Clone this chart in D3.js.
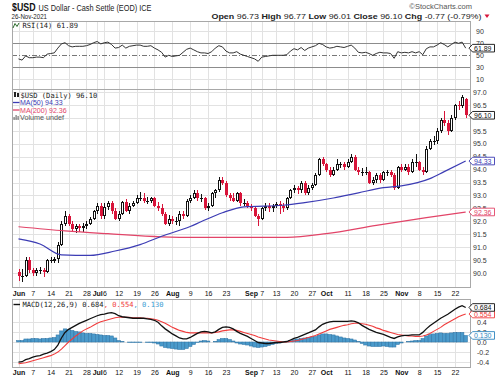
<!DOCTYPE html>
<html>
<head>
<meta charset="utf-8">
<script src="https://d3js.org/d3.v7.min.js"></script>
<style>
body { margin: 0; background: #fff; }
svg { display: block; }
</style>
</head>
<body>
<div id="chart"></div>
<script>
// Trading days (2021)
var dates = ["06-01","06-02","06-03","06-04","06-07","06-08","06-09","06-10","06-11","06-14","06-15","06-16","06-17","06-18","06-21","06-22","06-23","06-24","06-25","06-28","06-29","06-30",
  "07-01","07-02","07-06","07-07","07-08","07-09","07-12","07-13","07-14","07-15","07-16","07-19","07-20","07-21","07-22","07-23","07-26","07-27","07-28","07-29","07-30",
  "08-02","08-03","08-04","08-05","08-06","08-09","08-10","08-11","08-12","08-13","08-16","08-17","08-18","08-19","08-20","08-23","08-24","08-25","08-26","08-27","08-30","08-31",
  "09-01","09-02","09-03","09-07","09-08","09-09","09-10","09-13","09-14","09-15","09-16","09-17","09-20","09-21","09-22","09-23","09-24","09-27","09-28","09-29","09-30",
  "10-01","10-04","10-05","10-06","10-07","10-08","10-11","10-12","10-13","10-14","10-15","10-18","10-19","10-20","10-21","10-22","10-25","10-26","10-27","10-28","10-29",
  "11-01","11-02","11-03","11-04","11-05","11-08","11-09","11-10","11-11","11-12","11-15","11-16","11-17","11-18","11-19","11-22","11-23","11-24","11-26"];

var open = [90.05,89.90,89.90,90.50,90.10,90.00,90.10,90.10,90.05,90.50,
  90.50,90.55,91.10,91.90,92.20,91.90,91.70,91.80,91.75,91.80,
  91.90,92.10,92.40,92.60,92.20,92.55,92.70,92.40,92.10,92.30,
  92.75,92.40,92.60,92.70,92.90,92.90,92.80,92.80,92.90,92.60,
  92.50,92.30,91.90,92.10,92.00,92.00,92.30,92.20,92.80,92.90,
  93.10,92.90,92.90,92.50,92.60,93.10,93.20,93.60,93.50,93.00,
  92.90,92.80,93.10,92.70,92.70,92.60,92.50,92.20,92.10,92.50,
  92.60,92.50,92.60,92.65,92.60,92.50,92.90,93.20,93.30,93.20,
  93.50,93.10,93.30,93.40,93.80,94.40,94.20,94.00,93.80,94.00,
  94.20,94.20,94.10,94.30,94.50,94.00,93.90,93.90,93.90,93.50,
  93.60,93.80,93.60,93.90,93.90,93.80,93.30,94.10,94.00,94.10,
  93.90,94.30,94.30,94.00,93.90,94.80,95.10,95.10,95.50,95.90,
  95.80,95.50,96.00,96.50,96.45,96.73];
var high = [90.15,90.15,90.60,90.60,90.20,90.20,90.25,90.20,90.55,90.60,
  90.60,91.20,92.00,92.40,92.30,92.00,91.90,91.90,91.95,92.00,
  92.15,92.45,92.70,92.70,92.70,92.80,92.80,92.50,92.40,92.80,
  92.85,92.70,92.80,93.00,93.15,93.10,92.95,92.95,92.95,92.75,
  92.65,92.35,92.25,92.20,92.15,92.40,92.40,92.85,93.00,93.20,
  93.20,93.05,92.95,92.70,93.15,93.25,93.70,93.70,93.55,93.10,
  93.10,93.15,93.15,92.85,92.80,92.65,92.55,92.30,92.55,92.70,
  92.70,92.65,92.75,92.80,92.70,92.95,93.25,93.40,93.35,93.55,
  93.55,93.40,93.50,93.85,94.45,94.50,94.25,94.10,94.10,94.40,
  94.30,94.30,94.40,94.60,94.55,94.10,94.05,94.10,93.95,93.70,
  93.85,93.85,93.95,94.00,94.00,93.85,94.15,94.20,94.20,94.20,
  94.40,94.60,94.35,94.10,94.90,95.20,95.30,95.60,96.00,96.25,
  95.90,96.10,96.55,96.65,96.90,96.77];
var low = [89.70,89.65,89.85,90.00,89.90,89.90,89.95,89.85,90.00,90.40,
  90.40,90.40,91.05,91.80,91.80,91.60,91.55,91.60,91.60,91.70,
  91.85,92.05,92.30,92.10,92.10,92.45,92.30,92.05,92.00,92.25,
  92.35,92.30,92.55,92.65,92.80,92.70,92.65,92.70,92.55,92.40,
  92.20,91.85,91.80,91.90,91.85,91.80,92.10,92.15,92.70,92.85,
  92.80,92.75,92.45,92.40,92.55,92.90,93.15,93.40,92.95,92.80,
  92.75,92.75,92.60,92.60,92.50,92.40,92.15,91.80,92.05,92.40,
  92.35,92.35,92.50,92.30,92.35,92.45,92.85,93.10,93.05,93.10,
  93.00,93.00,93.20,93.35,93.75,94.15,93.90,93.70,93.75,93.95,
  94.05,94.00,94.05,94.25,93.95,93.80,93.75,93.80,93.45,93.40,
  93.50,93.50,93.55,93.75,93.70,93.20,93.25,93.90,93.95,93.80,
  93.85,94.10,93.95,93.80,93.85,94.75,94.95,95.00,95.40,95.70,
  95.35,95.45,95.90,96.30,96.40,96.01];
var close = [89.90,89.90,90.50,90.10,90.00,90.10,90.10,90.05,90.50,90.50,
  90.55,91.10,91.90,92.20,91.90,91.70,91.80,91.75,91.80,91.90,
  92.10,92.40,92.60,92.20,92.55,92.70,92.40,92.10,92.30,92.75,
  92.40,92.60,92.70,92.90,92.90,92.80,92.80,92.90,92.60,92.50,
  92.30,91.90,92.10,92.00,92.00,92.30,92.20,92.80,92.90,93.10,
  92.90,92.90,92.50,92.60,93.10,93.20,93.60,93.50,93.00,92.90,
  92.80,93.10,92.70,92.70,92.60,92.50,92.20,92.10,92.50,92.60,
  92.50,92.60,92.65,92.60,92.50,92.90,93.20,93.30,93.20,93.50,
  93.10,93.30,93.40,93.80,94.40,94.20,94.00,93.80,94.00,94.20,
  94.20,94.10,94.30,94.50,94.00,93.90,93.90,93.90,93.50,93.60,
  93.80,93.60,93.90,93.90,93.80,93.30,94.10,94.00,94.10,93.90,
  94.30,94.30,94.00,93.90,94.80,95.10,95.10,95.50,95.90,95.80,
  95.50,96.00,96.50,96.45,96.80,96.10];

// Moving averages (read at a few points)
var ma50Dates = ["06-01","06-09","06-17","06-29","07-09","07-20","07-28","08-09","08-12","08-20","08-30","09-15","09-23","10-05","10-14","10-25","11-01","11-11","11-17","11-26"];
var ma50 = [91.32,91.12,90.70,90.68,90.85,91.10,91.42,91.80,91.98,92.33,92.56,92.62,92.72,92.90,93.10,93.30,93.37,93.65,93.92,94.33];
var ma200Dates = ["06-01","06-18","07-07","07-28","08-11","09-16","10-01","10-21","11-10","11-26"];
var ma200 = [91.79,91.63,91.52,91.40,91.38,91.38,91.52,91.84,92.14,92.36];

var rsi = [44,42,49,46,46,47,47,46,52,53,
  54,62,69,71,66,64,65,65,65,66,
  68,71,73,69,71,72,68,62,63,67,
  62,65,66,67,67,65,65,66,62,59,
  55,47,50,48,49,50,55,60,62,59,
  56,54,54,53,56,62,66,64,57,54,
  54,56,52,50,48,46,44,40,47,48,
  49,50,50,50,50,51,57,61,59,63,
  58,62,64,66,70,68,64,62,63,65,
  64,63,65,67,62,55,54,55,53,50,
  53,55,54,54,53,45,56,54,55,54,
  56,54,56,51,61,64,64,67,71,68,
  64,68,72,70,72,61.89];

var macd = [-0.40,-0.39,-0.35,-0.33,-0.30,-0.28,-0.27,-0.24,-0.22,-0.19,
  -0.15,-0.06,0.08,0.19,0.25,0.29,0.33,0.37,0.40,0.43,
  0.46,0.49,0.52,0.54,0.55,0.57,0.58,0.56,0.52,0.50,
  0.49,0.48,0.47,0.47,0.47,0.47,0.46,0.45,0.43,0.39,
  0.32,0.26,0.21,0.16,0.12,0.08,0.06,0.06,0.09,0.13,
  0.17,0.20,0.21,0.20,0.18,0.20,0.25,0.29,0.30,0.29,
  0.26,0.21,0.17,0.14,0.11,0.07,0.03,-0.01,-0.02,-0.03,
  -0.03,-0.02,-0.01,-0.01,0.00,0.01,0.04,0.07,0.09,0.12,
  0.15,0.18,0.21,0.24,0.30,0.35,0.38,0.40,0.41,0.41,
  0.41,0.41,0.41,0.42,0.41,0.38,0.33,0.29,0.25,0.22,
  0.19,0.17,0.15,0.12,0.09,0.07,0.10,0.12,0.13,0.13,
  0.14,0.14,0.14,0.19,0.26,0.32,0.37,0.42,0.47,0.51,
  0.55,0.60,0.65,0.69,0.72,0.684];
var signal = [-0.43,-0.42,-0.41,-0.39,-0.37,-0.35,-0.33,-0.31,-0.29,-0.27,
  -0.24,-0.20,-0.14,-0.07,0.00,0.06,0.12,0.17,0.22,0.26,
  0.29,0.33,0.37,0.40,0.42,0.44,0.46,0.48,0.49,0.49,
  0.49,0.49,0.48,0.48,0.48,0.47,0.47,0.46,0.45,0.43,
  0.40,0.37,0.33,0.29,0.26,0.23,0.21,0.19,0.18,0.18,
  0.18,0.18,0.18,0.18,0.18,0.19,0.20,0.22,0.23,0.24,
  0.24,0.23,0.21,0.19,0.17,0.15,0.13,0.10,0.08,0.06,
  0.04,0.03,0.02,0.01,0.00,0.00,0.01,0.02,0.03,0.05,
  0.07,0.09,0.11,0.13,0.16,0.19,0.22,0.25,0.27,0.29,
  0.31,0.33,0.34,0.36,0.37,0.37,0.36,0.35,0.33,0.31,
  0.28,0.26,0.23,0.21,0.19,0.17,0.15,0.14,0.13,0.12,
  0.12,0.11,0.11,0.12,0.14,0.17,0.21,0.25,0.29,0.34,
  0.38,0.42,0.46,0.50,0.53,0.554];
var hist = [0.03,0.03,0.06,0.06,0.07,0.07,0.06,0.07,0.07,0.08,
  0.09,0.14,0.22,0.26,0.25,0.23,0.21,0.20,0.18,0.17,
  0.17,0.16,0.15,0.14,0.13,0.13,0.12,0.08,0.03,0.01,
  0.00,-0.01,-0.01,-0.01,-0.01,0.00,-0.01,-0.01,-0.02,-0.04,
  -0.08,-0.11,-0.12,-0.13,-0.14,-0.15,-0.15,-0.13,-0.09,-0.05,
  -0.01,0.02,0.03,0.02,0.00,0.01,0.05,0.07,0.07,0.05,
  0.02,-0.02,-0.04,-0.05,-0.06,-0.08,-0.10,-0.11,-0.10,-0.09,
  -0.07,-0.05,-0.03,-0.02,0.00,0.01,0.03,0.05,0.06,0.07,
  0.08,0.09,0.10,0.11,0.14,0.16,0.16,0.15,0.14,0.12,
  0.10,0.08,0.07,0.06,0.04,0.01,-0.03,-0.06,-0.08,-0.09,
  -0.09,-0.09,-0.08,-0.09,-0.10,-0.10,-0.05,-0.02,0.00,0.01,
  0.02,0.03,0.03,0.07,0.12,0.15,0.16,0.17,0.18,0.17,
  0.17,0.18,0.19,0.19,0.19,0.13];

// Axis ticks (96.0 sits under the close tag in the reference)
var tickDates = ["06-01","06-07","06-14","06-21","06-28","07-01","07-06","07-12","07-19","07-26","08-02","08-09","08-16","08-23","09-01","09-07","09-13","09-20","09-27","10-01","10-11","10-18","10-25","11-01","11-08","11-15","11-22"];
var tickLabels = ["Jun","7","14","21","28","Jul","6","12","19","26","Aug","9","16","23","Sep","7","13","20","27","Oct","11","18","25","Nov","8","15","22"];
var priceGrid = [90.0,90.5,91.0,91.5,92.0,92.5,93.0,93.5,94.0,94.5,95.0,95.5,96.0,96.5,97.0];
var priceLabels = [90.0,90.5,91.0,91.5,92.0,92.5,93.0,93.5,94.0,94.5,95.0,95.5,96.5,97.0];
var rsiTicks = [90,70,50,30,10];
var macdTicks = [0.4,0.2,0.0,-0.2,-0.4];

var red = "#d8143a", blue = "#3c3cb4", maRed = "#e24468", histBlue = "#4a9acb";
var left = 12, right = 470;
var panels = [{top: 21, bottom: 89}, {top: 89, bottom: 287}, {top: 299, bottom: 367}];

var svg = d3.select("#chart")
.append("svg")
.attr("width", 500)
.attr("height", 379)
.style("font-family", "'Liberation Sans', Arial, sans-serif");

// Scales
var x = d3.scalePoint().domain(dates).range([18.5, 465.7]);
var y = d3.scaleLinear().domain([90, 97]).range([273, 92]);
var yRsi = d3.scaleLinear().domain([0, 100]).range([85.3, 25.3]);
var yMacd = d3.scaleLinear().domain([-0.4, 0.4]).range([362.2, 321.8]);
function px(d) { return Math.round(x(d)) + 0.5; }

// Grid
var grid = svg.append("g").attr("shape-rendering", "crispEdges");
panels.forEach(function(p) {
  grid.selectAll(null)
  .data(tickDates)
  .enter()
  .append("line")
  .attr("x1", px).attr("x2", px)
  .attr("y1", p.top).attr("y2", p.bottom)
  .attr("stroke", "#e2e2e2");
});
grid.selectAll(null)
.data(priceGrid)
.enter()
.append("line")
.attr("x1", left).attr("x2", right)
.attr("y1", function(d) { return Math.round(y(d)) + 0.5; })
.attr("y2", function(d) { return Math.round(y(d)) + 0.5; })
.attr("stroke", "#e2e2e2");
grid.selectAll(null)
.data(macdTicks)
.enter()
.append("line")
.attr("x1", left).attr("x2", right)
.attr("y1", function(d) { return Math.round(yMacd(d)) + 0.5; })
.attr("y2", function(d) { return Math.round(yMacd(d)) + 0.5; })
.attr("stroke", "#e2e2e2");
grid.selectAll(null)
.data(rsiTicks)
.enter()
.append("line")
.attr("x1", left).attr("x2", right)
.attr("y1", function(d) { return Math.round(yRsi(d)) + 0.5; })
.attr("y2", function(d) { return Math.round(yRsi(d)) + 0.5; })
.attr("stroke", function(d) { return (d == 70 || d == 30) ? "#8c8c8c" : (d == 50 ? "#777" : "#e2e2e2"); })
.attr("stroke-dasharray", function(d) { return d == 50 ? "5,2,1,2" : null; });

// Panel borders
panels.forEach(function(p) {
  svg.append("rect")
  .attr("x", left + 0.5).attr("y", p.top + 0.5)
  .attr("width", right - left).attr("height", p.bottom - p.top)
  .attr("fill", "none").attr("stroke", "#a8a8a8")
  .attr("shape-rendering", "crispEdges");
});

// Candles
var bars = dates.map(function(d, i) {
  return {date: d, o: open[i], h: high[i], l: low[i], c: close[i], prev: i > 0 ? close[i - 1] : open[i]};
});
function candleColor(d) { return d.c >= d.prev ? "#111" : red; }

var candles = svg.append("g").attr("shape-rendering", "crispEdges");
candles.selectAll("line")
.data(bars)
.enter()
.append("line")
.attr("x1", function(d) { return px(d.date); })
.attr("x2", function(d) { return px(d.date); })
.attr("y1", function(d) { return Math.round(y(d.h)); })
.attr("y2", function(d) { return Math.round(y(d.l)); })
.attr("stroke", candleColor);
candles.selectAll("rect")
.data(bars)
.enter()
.append("rect")
.each(function(d) {
  var top = Math.round(y(Math.max(d.o, d.c)));
  var bot = Math.round(y(Math.min(d.o, d.c)));
  var cx = Math.round(x(d.date));
  var r = d3.select(this);
  if (d.c > d.o) {
    r.attr("x", cx - 0.5).attr("y", top + 0.5)
    .attr("width", 2).attr("height", Math.max(bot - top - 1, 1))
    .attr("fill", "#fff").attr("stroke", candleColor(d));
  } else {
    r.attr("x", cx - 1).attr("y", top)
    .attr("width", 3).attr("height", Math.max(bot - top, 1))
    .attr("fill", candleColor(d));
  }
});

// Moving averages
var maLine = d3.line()
.x(function(d) { return x(d[0]); })
.y(function(d) { return y(d[1]); })
.curve(d3.curveMonotoneX);
svg.append("path")
.attr("d", maLine(d3.zip(ma200Dates, ma200)))
.attr("fill", "none").attr("stroke", maRed).attr("stroke-width", 1.2);
svg.append("path")
.attr("d", maLine(d3.zip(ma50Dates, ma50)))
.attr("fill", "none").attr("stroke", blue).attr("stroke-width", 1.2);

// RSI
svg.append("path")
.attr("d", d3.line()
  .x(function(d) { return x(d[0]); })
  .y(function(d) { return yRsi(d[1]); })(d3.zip(dates, rsi)))
.attr("fill", "none").attr("stroke", "#333").attr("stroke-width", 1);

// MACD histogram + lines
svg.append("g")
.selectAll("rect")
.data(d3.zip(dates, hist))
.enter()
.append("rect")
.attr("x", function(d) { return x(d[0]) - 1.8; })
.attr("width", 3.6)
.attr("y", function(d) { return yMacd(Math.max(0, d[1])); })
.attr("height", function(d) { return Math.abs(yMacd(d[1]) - yMacd(0)); })
.attr("fill", histBlue)
.attr("stroke", "#2f73a3")
.attr("stroke-width", 0.5);
var macdLine = d3.line()
.x(function(d) { return x(d[0]); })
.y(function(d) { return yMacd(d[1]); });
svg.append("path")
.attr("d", macdLine(d3.zip(dates, signal)))
.attr("fill", "none").attr("stroke", "#f03c3c").attr("stroke-width", 1.1);
svg.append("path")
.attr("d", macdLine(d3.zip(dates, macd)))
.attr("fill", "none").attr("stroke", "#111").attr("stroke-width", 1.3);

// Axes
function styleAxis(g) {
  g.select(".domain").remove();
  g.selectAll("text").attr("fill", "#333").style("font-size", "7px")
  .style("font-family", "'Liberation Sans', Arial, sans-serif");
}
svg.append("g")
.attr("transform", "translate(" + right + ",0)")
.call(d3.axisRight(y).tickValues(priceLabels).tickSize(0).tickPadding(3)
  .tickFormat(function(d) { return d.toFixed(1); }))
.call(styleAxis);
svg.append("g")
.attr("transform", "translate(" + (right + 3) + ",0)")
.call(d3.axisRight(yRsi).tickValues(rsiTicks).tickSize(0).tickPadding(3))
.call(styleAxis);
svg.append("g")
.attr("transform", "translate(" + (right + 4) + ",0)")
.call(d3.axisRight(yMacd).tickValues(macdTicks).tickSize(0).tickPadding(3)
  .tickFormat(function(d) { return d.toFixed(1); }))
.call(styleAxis);

[288.5, 367].forEach(function(ty) {
  svg.append("g")
  .attr("transform", "translate(0," + ty + ")")
  .call(d3.axisBottom(x).tickValues(tickDates).tickSize(0).tickPadding(3)
    .tickFormat(function(d, i) { return tickLabels[i]; }))
  .call(styleAxis)
  .selectAll("text")
  .style("font-weight", function(d, i) { return isNaN(+tickLabels[i]) ? "bold" : "normal"; })
  .attr("fill", "#111");
});

// Value tags on the right
function tag(yy, label, color) {
  svg.append("path")
  .attr("d", "M469," + yy + "L472.5," + (yy - 3.8) + "H494.5V" + (yy + 3.8) + "H472.5Z")
  .attr("fill", "#fff").attr("stroke", color).attr("stroke-width", 0.9);
  svg.append("text")
  .attr("x", 474).attr("y", yy + 2.6)
  .style("font-size", "7px").attr("fill", color)
  .text(label);
}
tag(yRsi(61.89), "61.89", "#111");
tag(y(96.10), "96.10", "#111");
tag(y(94.33), "94.33", blue);
tag(y(92.36), "92.36", maRed);
tag(yMacd(0.130), "0.130", "#2f86bf");
tag(yMacd(0.554), "0.554", "#f03c3c");
tag(yMacd(0.684), "0.684", "#111");

// Header
svg.append("text").attr("x", 12).attr("y", 10.5)
.attr("textLength", 23.5).attr("lengthAdjust", "spacingAndGlyphs")
.style("font-size", "10px").style("font-weight", "bold").attr("fill", "#111")
.text("$USD");
svg.append("text").attr("x", 38.5).attr("y", 10.5)
.attr("textLength", 113).attr("lengthAdjust", "spacingAndGlyphs")
.style("font-size", "8.5px").attr("fill", "#222")
.text("US Dollar - Cash Settle (EOD) ICE");
svg.append("text").attr("x", 11.5).attr("y", 18.5)
.attr("textLength", 35.5).attr("lengthAdjust", "spacingAndGlyphs")
.style("font-size", "7.5px").attr("fill", "#222")
.text("26-Nov-2021");
svg.append("text").attr("x", 472).attr("y", 9)
.attr("text-anchor", "end")
.style("font-size", "7.5px").attr("fill", "#555")
.text("\u00a9StockCharts.com");

var ohlc = svg.append("text").attr("x", 211.5).attr("y", 18.5)
.attr("textLength", 270).attr("lengthAdjust", "spacingAndGlyphs")
.style("font-size", "8px").attr("fill", "#222");
[["Open", " 96.73 "], ["High", " 96.77 "], ["Low", " 96.01 "], ["Close", " 96.10 "], ["Chg", " -0.77 (-0.79%)"]].forEach(function(p) {
  ohlc.append("tspan").style("font-weight", "bold").text(p[0]);
  ohlc.append("tspan").text(p[1]);
});
svg.append("path").attr("d", "M484.5,14.5H489.5L487,18Z").attr("fill", red);

// Legends
var mono = "'DejaVu Sans Mono', monospace";
svg.append("path").attr("d", "M13,28L15,23.5L17,26.5L19,23").attr("fill", "none").attr("stroke", "#2a6a2a");
svg.append("text").attr("x", 22.5).attr("y", 28)
.style("font-family", mono).style("font-size", "7.1px").attr("fill", "#222")
.text("RSI(14) 61.89");

svg.append("rect").attr("x", 14).attr("y", 92).attr("width", 2).attr("height", 5).attr("fill", "#222");
svg.append("rect").attr("x", 17).attr("y", 93).attr("width", 2).attr("height", 4).attr("fill", "#222");
svg.append("text").attr("x", 20.5).attr("y", 97.5)
.style("font-family", mono).style("font-size", "7.1px").attr("fill", "#222")
.text("$USD (Daily) 96.10");

svg.append("line").attr("x1", 13).attr("x2", 19.5).attr("y1", 102.5).attr("y2", 102.5).attr("stroke", blue).attr("stroke-width", 1.3);
svg.append("text").attr("x", 20).attr("y", 105)
.attr("textLength", 42.7).attr("lengthAdjust", "spacingAndGlyphs")
.style("font-size", "7.5px").attr("fill", blue)
.text("MA(50) 94.33");
svg.append("line").attr("x1", 13).attr("x2", 19.5).attr("y1", 110).attr("y2", 110).attr("stroke", maRed).attr("stroke-width", 1.3);
svg.append("text").attr("x", 20).attr("y", 112.5)
.attr("textLength", 46.7).attr("lengthAdjust", "spacingAndGlyphs")
.style("font-size", "7.5px").attr("fill", maRed)
.text("MA(200) 92.36");
[[13.5, 3], [15.5, 5], [17.5, 4]].forEach(function(b) {
  svg.append("rect").attr("x", b[0]).attr("y", 120 - b[1]).attr("width", 1.2).attr("height", b[1]).attr("fill", "#777");
});
svg.append("text").attr("x", 20).attr("y", 120)
.attr("textLength", 44).attr("lengthAdjust", "spacingAndGlyphs")
.style("font-size", "7.5px").attr("fill", "#555")
.text("Volume undef");

svg.append("line").attr("x1", 13.5).attr("x2", 20).attr("y1", 304.5).attr("y2", 304.5).attr("stroke", "#111").attr("stroke-width", 1.4);
var macdText = svg.append("text").attr("x", 22.5).attr("y", 307)
.style("font-family", mono).style("font-size", "7.1px");
macdText.append("tspan").attr("fill", "#222").text("MACD(12,26,9) 0.684");
macdText.append("tspan").attr("fill", "#f03c3c").text(", 0.554");
macdText.append("tspan").attr("fill", "#3a9ad2").text(", 0.130");
</script>
</body>
</html>
